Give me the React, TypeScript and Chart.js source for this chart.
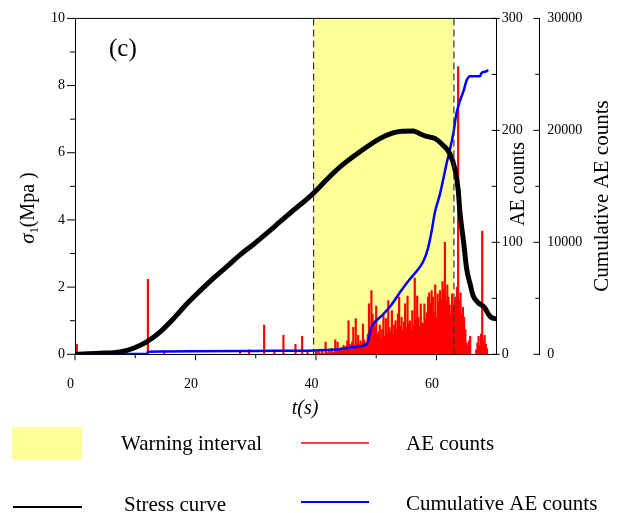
import React, { useEffect, useRef } from 'react';
import { Chart, registerables } from 'chart.js';

Chart.register(...registerables);

const CANVAS_W = 617;
const CANVAS_H = 513;
const FONT = '"Liberation Serif", "Times New Roman", serif';

// ---- axes ----
const xMajorTicks = [0, 20, 40, 60];
const xMinorTicks = [10, 30, 50];
const stressMajorTicks = [0, 2, 4, 6, 8, 10];
const stressMinorTicks = [1, 3, 5, 7, 9];
const aeMajorTicks = [0, 100, 200, 300];
const aeMinorTicks = [50, 150, 250];
const cumMajorTicks = [0, 10000, 20000, 30000];
const cumMinorTicks = [5000, 15000, 25000];

// ---- warning interval ----
const warningStart = 39.6;
const warningEnd = 62.9;

// ---- stress curve ----
const stressTime = [0, 4, 7.5, 9.7, 11.9, 14.1, 16.3, 18.5, 20.7, 23.0, 25.2, 27.4, 29.6, 31.8, 34.0, 36.2, 38.5, 40.0, 42.0, 44.0, 47.3, 50.6, 52.8, 54.3, 56.1, 57.3, 58.5, 59.8, 61.1, 62.2, 63.1, 63.6, 63.9, 64.5, 65.0, 65.6, 66.1, 66.9, 68.0, 68.6, 69.1, 70];
const stressValue = [0, 0.03, 0.07, 0.18, 0.37, 0.66, 1.05, 1.49, 1.88, 2.27, 2.61, 2.96, 3.27, 3.6, 3.94, 4.28, 4.62, 4.87, 5.24, 5.58, 6.03, 6.42, 6.59, 6.64, 6.65, 6.56, 6.48, 6.42, 6.22, 5.98, 5.49, 4.91, 4.22, 3.35, 2.56, 2.08, 1.74, 1.54, 1.39, 1.2, 1.1, 1.05];

// ---- cumulative AE counts ----
const cumTime = [0, 7, 12.0, 12.1, 20, 30, 40, 44, 46, 48.4, 48.8, 49.1, 49.8, 51.2, 52.6, 53.9, 55.3, 56.7, 57.8, 58.6, 59.2, 59.75, 60.6, 61.7, 62.8, 63.3, 63.9, 64.5, 65.0, 65.6, 67.2, 67.5, 68.3, 68.6];
const cumValue = [0, 20, 60, 230, 270, 300, 350, 450, 620, 905, 1500, 2285, 2865, 3600, 4480, 5500, 6530, 7410, 8290, 9460, 11000, 12700, 14350, 17080, 19720, 21470, 22640, 23520, 24460, 24840, 24840, 25140, 25280, 25400];

// ---- AE counts (sparse early events) ----
const aeSparseTime = [0.3, 12.1, 14.8, 27.4, 28.9, 31.4, 33.1, 34.6, 36.6, 37.7, 38.6];
const aeSparseValue = [9, 67, 3, 3, 4, 26, 3, 17, 9, 16, 3];

// ---- AE counts (dense, every 0.2 s from 40.0 s) ----
const aeDenseStart = 40.0;
const aeDenseStep = 0.2;
const aeDenseValue = [
  2, 0, 3, 1, 0, 4, 1, 0, 11, 2,
  0, 3, 1, 5, 2, 1, 13, 3, 11, 2,
  4, 6, 3, 8, 5, 7, 12, 30, 9, 6,
  11, 24, 8, 32, 10, 17, 9, 12, 8, 27,
  13, 10, 11, 18, 45, 22, 57, 36, 30, 24,
  43, 18, 20, 26, 14, 22, 36, 16, 32, 19,
  48, 24, 21, 39, 18, 26, 30, 22, 36, 51,
  25, 33, 21, 29, 45, 24, 52, 27, 30, 22,
  39, 26, 68, 31, 52, 33, 25, 45, 28, 27,
  45, 31, 37, 51, 55, 46, 57, 51, 38, 62,
  33, 54, 47, 57, 49, 65, 58, 100, 48, 62,
  51, 44, 36, 54, 42, 48, 51, 60, 257, 48,
  55, 36, 42, 33, 22, 10, 8, 12, 16, 0,
  0, 0, 0, 4, 10, 16, 8, 18, 110, 12,
  17, 9, 5, 0, 0, 0, 0, 0, 0, 0,
];

// ---- legend ----
const legendItems = ['Warning interval', 'AE counts', 'Stress curve', 'Cumulative AE counts'];

const YELLOW = '#ffff99';
const RED = '#ff0000';
const BLUE = '#0000ff';

function line(ctx: CanvasRenderingContext2D, x1: number, y1: number, x2: number, y2: number) {
  ctx.beginPath();
  ctx.moveTo(x1, y1);
  ctx.lineTo(x2, y2);
  ctx.stroke();
}

function rotatedText(ctx: CanvasRenderingContext2D, text: string, cx: number, cy: number, size: number) {
  ctx.save();
  ctx.translate(cx, cy);
  ctx.rotate(-Math.PI / 2);
  ctx.font = `${size}px ${FONT}`;
  ctx.textAlign = 'center';
  ctx.textBaseline = 'alphabetic';
  ctx.fillText(text, 0, 0);
  ctx.restore();
}

const decoPlugin = {
  id: 'deco',
  beforeDatasetsDraw(chart: any) {
    const { ctx, chartArea: a, scales } = chart;
    const x1 = scales.x.getPixelForValue(warningStart);
    const x2 = scales.x.getPixelForValue(warningEnd);
    ctx.save();
    ctx.fillStyle = YELLOW;
    ctx.fillRect(x1, a.top, x2 - x1, a.bottom - a.top - 0.5);
    ctx.restore();
  },
  afterDatasetsDraw(chart: any) {
    const { ctx, chartArea: a, scales } = chart;
    ctx.save();
    ctx.strokeStyle = '#333';
    ctx.lineWidth = 1.2;
    ctx.setLineDash([7, 4]);
    for (const v of [warningStart, warningEnd]) {
      const px = scales.x.getPixelForValue(v);
      line(ctx, px, a.top, px, a.bottom);
    }
    ctx.restore();
  },
  afterDraw(chart: any) {
    const { ctx, chartArea: a, scales } = chart;
    ctx.save();
    ctx.strokeStyle = '#000';
    ctx.lineWidth = 1;
    // top frame
    line(ctx, a.left, a.top, a.right, a.top);
    // left axis ticks
    const yl = scales.y;
    for (const v of stressMajorTicks) { const p = yl.getPixelForValue(v); line(ctx, a.left - 8, p, a.left, p); }
    for (const v of stressMinorTicks) { const p = yl.getPixelForValue(v); line(ctx, a.left - 5, p, a.left, p); }
    // x axis ticks
    const xs = scales.x;
    for (const v of xMajorTicks) { const p = xs.getPixelForValue(v); line(ctx, p, a.bottom, p, a.bottom + 6); }
    for (const v of xMinorTicks) { const p = xs.getPixelForValue(v); line(ctx, p, a.bottom, p, a.bottom + 4); }
    // AE axis ticks
    const ya = scales.yAE;
    const ax = ya.left;
    for (const v of aeMajorTicks) { const p = ya.getPixelForValue(v); line(ctx, ax - 5, p, ax + 3, p); }
    for (const v of aeMinorTicks) { const p = ya.getPixelForValue(v); line(ctx, ax - 5, p, ax, p); }
    // cumulative axis ticks
    const yc = scales.yCum;
    const cx = yc.left;
    for (const v of cumMajorTicks) { const p = yc.getPixelForValue(v); line(ctx, cx - 6, p, cx, p); }
    for (const v of cumMinorTicks) { const p = yc.getPixelForValue(v); line(ctx, cx - 4, p, cx, p); }

    ctx.fillStyle = '#000';
    // panel label
    ctx.font = `25px ${FONT}`;
    ctx.textAlign = 'left';
    ctx.textBaseline = 'alphabetic';
    ctx.fillText('(c)', 109, 56);

    // left axis title: σ1(Mpa)
    ctx.save();
    ctx.translate(34, 208);
    ctx.rotate(-Math.PI / 2);
    ctx.textBaseline = 'alphabetic';
    ctx.textAlign = 'left';
    const fSig = `italic 21px ${FONT}`;
    const fSub = `12px ${FONT}`;
    const fMain = `20px ${FONT}`;
    ctx.font = fSig; const w1 = ctx.measureText('σ').width;
    ctx.font = fSub; const w2 = ctx.measureText('1').width;
    ctx.font = fMain; const w3 = ctx.measureText('(Mpa )').width;
    let sx = -(w1 + w2 + w3) / 2;
    ctx.font = fSig; ctx.fillText('σ', sx, 0); sx += w1;
    ctx.font = fSub; ctx.fillText('1', sx, 4); sx += w2;
    ctx.font = fMain; ctx.fillText('(Mpa )', sx, 0);
    ctx.restore();

    // right axis titles
    rotatedText(ctx, 'AE counts', 524, 184, 20);
    rotatedText(ctx, 'Cumulative AE counts', 608, 196, 21);

    // x axis title
    ctx.font = `italic 20px ${FONT}`;
    ctx.textAlign = 'center';
    ctx.fillText('t(s)', 305, 414);

    // legend
    ctx.textAlign = 'left';
    ctx.font = `21px ${FONT}`;
    ctx.fillStyle = YELLOW;
    ctx.fillRect(12, 427, 70, 33);
    ctx.fillStyle = '#000';
    ctx.fillText(legendItems[0], 121, 450);
    ctx.fillText(legendItems[1], 406, 450);
    ctx.fillText(legendItems[2], 124, 511);
    ctx.fillText(legendItems[3], 406, 510);
    ctx.strokeStyle = RED; ctx.lineWidth = 1.5; line(ctx, 301, 443, 369, 443);
    ctx.strokeStyle = '#000'; ctx.lineWidth = 2; line(ctx, 13, 507, 82, 507);
    ctx.strokeStyle = BLUE; ctx.lineWidth = 2; line(ctx, 301, 502, 369, 502);
    ctx.restore();
  },
};

export default function App() {
  const canvasRef = useRef<HTMLCanvasElement | null>(null);

  useEffect(() => {
    const canvas = canvasRef.current;
    if (!canvas) return;

    const stressPts = stressTime.map((t, i) => ({ x: t, y: stressValue[i] }));
    const cumPts = cumTime.map((t, i) => ({ x: t, y: cumValue[i] }));
    const aePts = [
      ...aeSparseTime.map((t, i) => ({ x: t, y: aeSparseValue[i] })),
      ...aeDenseValue.map((v, i) => ({ x: +(aeDenseStart + i * aeDenseStep).toFixed(1), y: v })),
    ];

    const tickFont = { family: FONT, size: 14 };

    const chart = new Chart(canvas, {
      type: 'bar',
      data: {
        datasets: [
          {
            type: 'line',
            label: 'Stress curve',
            data: stressPts,
            xAxisID: 'x',
            yAxisID: 'y',
            borderColor: '#000',
            borderWidth: 5,
            pointRadius: 0,
            cubicInterpolationMode: 'monotone',
            borderCapStyle: 'round',
            borderJoinStyle: 'round',
            order: 1,
          } as any,
          {
            type: 'line',
            label: 'Cumulative AE counts',
            data: cumPts,
            xAxisID: 'x',
            yAxisID: 'yCum',
            borderColor: BLUE,
            borderWidth: 2.5,
            pointRadius: 0,
            cubicInterpolationMode: 'monotone',
            order: 2,
          } as any,
          {
            type: 'bar',
            label: 'AE counts',
            data: aePts,
            xAxisID: 'x',
            yAxisID: 'yAE',
            backgroundColor: RED,
            barThickness: 1.5,
            order: 3,
          } as any,
        ],
      },
      options: {
        responsive: false,
        animation: false,
        layout: { padding: { top: 12.7, left: 0, right: 0, bottom: 0 } },
        plugins: { legend: { display: false }, tooltip: { enabled: false }, title: { display: false } },
        scales: {
          x: {
            type: 'linear',
            position: 'bottom',
            min: 0,
            max: 70,
            offset: false,
            afterBuildTicks: (s: any) => { s.ticks = xMajorTicks.map((v) => ({ value: v })); },
            afterFit: (s: any) => { s.height = 158.7; },
            grid: { display: false, drawTicks: false },
            border: { display: true, color: '#000', width: 1 },
            ticks: { color: '#000', font: tickFont, padding: 22, labelOffset: -4.5, maxRotation: 0, autoSkip: false },
          },
          y: {
            type: 'linear',
            position: 'left',
            min: 0,
            max: 10,
            afterBuildTicks: (s: any) => { s.ticks = stressMajorTicks.map((v) => ({ value: v })); },
            afterFit: (s: any) => { s.width = 75; },
            grid: { display: false, drawTicks: false },
            border: { display: true, color: '#000', width: 1 },
            ticks: { color: '#000', font: tickFont, padding: 10 },
          },
          yAE: {
            type: 'linear',
            position: 'right',
            weight: 1,
            min: 0,
            max: 300,
            afterBuildTicks: (s: any) => { s.ticks = aeMajorTicks.map((v) => ({ value: v })); },
            afterFit: (s: any) => { s.width = 42.6; },
            grid: { display: false, drawTicks: false },
            border: { display: true, color: '#000', width: 1 },
            ticks: { color: '#000', font: tickFont, padding: 5 },
          },
          yCum: {
            type: 'linear',
            position: 'right',
            weight: 2,
            min: 0,
            max: 30000,
            afterBuildTicks: (s: any) => { s.ticks = cumMajorTicks.map((v) => ({ value: v })); },
            afterFit: (s: any) => { s.width = 77.7; },
            grid: { display: false, drawTicks: false },
            border: { display: true, color: '#000', width: 1 },
            ticks: { color: '#000', font: tickFont, padding: 8, callback: (v: any) => String(v) },
          },
        },
      } as any,
      plugins: [decoPlugin],
    });

    return () => chart.destroy();
  }, []);

  return (
    <div style={{ position: 'absolute', left: 0, top: 0, width: CANVAS_W, height: CANVAS_H, background: '#fff' }}>
      <canvas ref={canvasRef} width={CANVAS_W} height={CANVAS_H} style={{ display: 'block' }} />
    </div>
  );
}
